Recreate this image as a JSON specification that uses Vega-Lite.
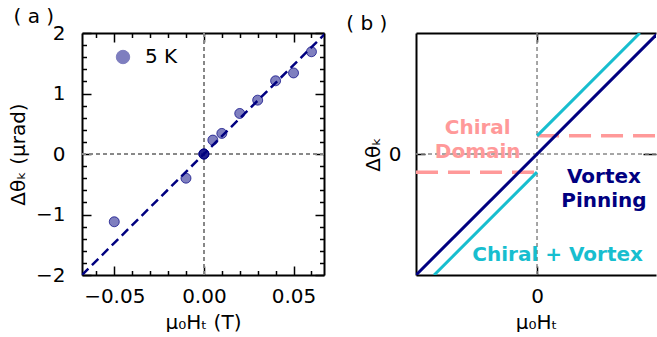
{
  "$schema": "https://vega.github.io/schema/vega-lite/v6.json",
  "padding": {"left": 8, "top": 7, "right": 0, "bottom": 0},
  "background": "white",
  "spacing": 21,
  "datasets": {
    "pts": [
      {"H": -0.05, "theta": -1.12, "series": "5 K"},
      {"H": -0.01, "theta": -0.40, "series": "5 K"},
      {"H": 0.0, "theta": 0.0, "series": "5 K"},
      {"H": 0.0, "theta": 0.0, "series": "5 K"},
      {"H": 0.0, "theta": 0.0, "series": "5 K"},
      {"H": 0.005, "theta": 0.23, "series": "5 K"},
      {"H": 0.01, "theta": 0.34, "series": "5 K"},
      {"H": 0.02, "theta": 0.67, "series": "5 K"},
      {"H": 0.03, "theta": 0.89, "series": "5 K"},
      {"H": 0.04, "theta": 1.21, "series": "5 K"},
      {"H": 0.05, "theta": 1.34, "series": "5 K"},
      {"H": 0.06, "theta": 1.69, "series": "5 K"}
    ],
    "fit": [
      {"H": -0.068, "theta": -2.0},
      {"H": 0.068, "theta": 2.0}
    ],
    "pink": [
      {"seg": "p1", "x": -1, "y": -0.15},
      {"seg": "p1", "x": 0, "y": -0.15},
      {"seg": "p2", "x": 0, "y": 0.15},
      {"seg": "p2", "x": 0.983, "y": 0.15}
    ],
    "cyan": [
      {"seg": "c1", "x": -0.85, "y": -1},
      {"seg": "c1", "x": 0, "y": -0.15},
      {"seg": "c2", "x": 0, "y": 0.15},
      {"seg": "c2", "x": 0.85, "y": 1}
    ],
    "navy": [
      {"seg": "n", "x": -1, "y": -1},
      {"seg": "n", "x": 1, "y": 1}
    ],
    "labels": [
      {"x": -0.49, "y": 0.215, "label": "Chiral\nDomain", "kind": "pink"},
      {"x": 0.553, "y": -0.186, "label": "Vortex\nPinning", "kind": "navy"},
      {"x": 0.17, "y": -0.835, "label": "Chiral + Vortex", "kind": "cyan"}
    ]
  },
  "hconcat": [
    {
      "title": {"text": "( a )", "anchor": "start", "frame": "bounds", "fontSize": 20, "fontWeight": "normal", "font": "DejaVu Sans", "offset": -4, "dx": 5},
      "width": 242,
      "height": 242,
      "resolve": {"axis": {"x": "independent", "y": "independent"}},
      "layer": [
        {
          "data": {"name": "pts"},
          "mark": {"type": "point", "opacity": 0},
          "encoding": {
            "x": {"field": "H", "type": "quantitative",
              "scale": {"domain": [-0.068, 0.067], "nice": false, "zero": false},
              "axis": {"orient": "bottom", "title": "μ₀Hₜ (T)", "values": [-0.05, 0, 0.05], "format": ".2f",
                "tickSize": -9, "labelPadding": 20, "titlePadding": 6}},
            "y": {"field": "theta", "type": "quantitative",
              "scale": {"domain": [-2, 2], "nice": false, "zero": false},
              "axis": {"orient": "left", "title": "Δθₖ (µrad)", "values": [-2, -1, 0, 1, 2], "format": "d",
                "tickSize": -9, "labelPadding": 26, "titlePadding": 7}}
          }
        },
        {
          "data": {"name": "pts"},
          "mark": {"type": "point", "opacity": 0},
          "encoding": {
            "x": {"field": "H", "type": "quantitative",
              "axis": {"orient": "top", "title": null, "labels": false, "values": [-0.05, 0, 0.05], "tickSize": -9}},
            "y": {"field": "theta", "type": "quantitative",
              "axis": {"orient": "right", "title": null, "labels": false, "values": [-2, -1, 0, 1, 2], "tickSize": -9}}
          }
        },
        {
          "data": {"name": "pts"},
          "mark": {"type": "point", "opacity": 0},
          "encoding": {
            "x": {"field": "H", "type": "quantitative",
              "axis": {"orient": "bottom", "title": null, "labels": false, "domain": false,
                "values": [-0.06, -0.04, -0.03, -0.02, -0.01, 0.01, 0.02, 0.03, 0.04, 0.06], "tickSize": -4.5}},
            "y": {"field": "theta", "type": "quantitative",
              "axis": {"orient": "left", "title": null, "labels": false, "domain": false,
                "values": [-1.8, -1.6, -1.4, -1.2, -0.8, -0.6, -0.4, -0.2, 0.2, 0.4, 0.6, 0.8, 1.2, 1.4, 1.6, 1.8], "tickSize": -4.5}}
          }
        },
        {
          "data": {"name": "pts"},
          "mark": {"type": "point", "opacity": 0},
          "encoding": {
            "x": {"field": "H", "type": "quantitative",
              "axis": {"orient": "top", "title": null, "labels": false, "domain": false,
                "values": [-0.06, -0.04, -0.03, -0.02, -0.01, 0.01, 0.02, 0.03, 0.04, 0.06], "tickSize": -4.5}},
            "y": {"field": "theta", "type": "quantitative",
              "axis": {"orient": "right", "title": null, "labels": false, "domain": false,
                "values": [-1.8, -1.6, -1.4, -1.2, -0.8, -0.6, -0.4, -0.2, 0.2, 0.4, 0.6, 0.8, 1.2, 1.4, 1.6, 1.8], "tickSize": -4.5}}
          }
        },
        {
          "data": {"name": "pts"},
          "mark": {"type": "rule", "color": "#888888", "strokeWidth": 1, "strokeDash": [4, 3]},
          "encoding": {"x": {"datum": 0, "type": "quantitative", "axis": null}}
        },
        {
          "data": {"name": "pts"},
          "mark": {"type": "rule", "color": "#888888", "strokeWidth": 1, "strokeDash": [4, 3]},
          "encoding": {"y": {"datum": 0, "type": "quantitative", "axis": null}}
        },
        {
          "data": {"name": "fit"},
          "mark": {"type": "line", "color": "#000080", "strokeWidth": 2.5, "strokeDash": [9, 5], "clip": true},
          "encoding": {
            "x": {"field": "H", "type": "quantitative", "axis": null},
            "y": {"field": "theta", "type": "quantitative", "axis": null}
          }
        },
        {
          "data": {"name": "pts"},
          "mark": {"type": "point", "shape": "circle", "filled": true, "size": 100, "fillOpacity": 0.5, "stroke": "#000080", "strokeWidth": 1, "strokeOpacity": 0.7},
          "encoding": {
            "x": {"field": "H", "type": "quantitative", "axis": null},
            "y": {"field": "theta", "type": "quantitative", "axis": null},
            "fill": {"field": "series", "type": "nominal", "scale": {"range": ["#000080"]},
              "legend": {"orient": "top-left", "title": null, "offset": 14, "padding": 0, "symbolOffset": 17,
                "symbolType": "circle", "symbolSize": 180, "symbolOpacity": 0.5, "symbolStrokeColor": "#000080", "symbolStrokeWidth": 1,
                "labelFontSize": 20, "labelFont": "DejaVu Sans", "labelColor": "black", "labelOffset": 12}}
          }
        }
      ]
    },
    {
      "title": {"text": "( b )", "anchor": "start", "frame": "bounds", "fontSize": 20, "fontWeight": "normal", "font": "DejaVu Sans", "offset": -4, "dx": -17},
      "width": 240,
      "height": 242,
      "resolve": {"axis": {"x": "independent", "y": "independent"}},
      "layer": [
        {
          "data": {"name": "navy"},
          "mark": {"type": "point", "opacity": 0},
          "encoding": {
            "x": {"field": "x", "type": "quantitative",
              "scale": {"domain": [-1, 0.983], "nice": false, "zero": false},
              "axis": {"orient": "bottom", "title": "μ₀Hₜ", "values": [0], "format": "d", "tickSize": -9, "labelPadding": 20, "titlePadding": 6}},
            "y": {"field": "y", "type": "quantitative",
              "scale": {"domain": [-1, 1], "nice": false, "zero": false},
              "axis": {"orient": "left", "title": "Δθₖ", "values": [0], "format": "d", "tickSize": -9, "labelPadding": 24, "titlePadding": 5}}
          }
        },
        {
          "data": {"name": "navy"},
          "mark": {"type": "point", "opacity": 0},
          "encoding": {
            "x": {"field": "x", "type": "quantitative",
              "axis": {"orient": "top", "title": null, "labels": false, "values": [0], "tickSize": -9}},
            "y": {"field": "y", "type": "quantitative",
              "axis": {"orient": "right", "title": null, "labels": false, "values": [0], "tickSize": -13, "domain": false}}
          }
        },
        {
          "data": {"name": "navy"},
          "mark": {"type": "rule", "color": "#888888", "strokeWidth": 1, "strokeDash": [4, 3]},
          "encoding": {"x": {"datum": 0, "type": "quantitative", "axis": null}}
        },
        {
          "data": {"name": "navy"},
          "mark": {"type": "rule", "color": "#888888", "strokeWidth": 1, "strokeDash": [4, 3]},
          "encoding": {"y": {"datum": 0, "type": "quantitative", "axis": null}}
        },
        {
          "data": {"name": "pink"},
          "mark": {"type": "line", "color": "#ff9999", "strokeWidth": 3.5, "strokeDash": [22, 10], "clip": true},
          "encoding": {
            "x": {"field": "x", "type": "quantitative", "axis": null},
            "y": {"field": "y", "type": "quantitative", "axis": null},
            "detail": {"field": "seg", "type": "nominal"}
          }
        },
        {
          "data": {"name": "cyan"},
          "mark": {"type": "line", "color": "#17becf", "strokeWidth": 3, "clip": true},
          "encoding": {
            "x": {"field": "x", "type": "quantitative", "axis": null},
            "y": {"field": "y", "type": "quantitative", "axis": null},
            "detail": {"field": "seg", "type": "nominal"}
          }
        },
        {
          "data": {"name": "navy"},
          "mark": {"type": "line", "color": "#000080", "strokeWidth": 3, "clip": true},
          "encoding": {
            "x": {"field": "x", "type": "quantitative", "axis": null},
            "y": {"field": "y", "type": "quantitative", "axis": null},
            "detail": {"field": "seg", "type": "nominal"}
          }
        },
        {
          "data": {"name": "labels"},
          "mark": {"type": "text", "font": "DejaVu Sans", "fontSize": 20, "fontWeight": "bold", "lineBreak": "\n", "lineHeight": 24, "align": "center", "baseline": "middle"},
          "encoding": {
            "x": {"field": "x", "type": "quantitative", "axis": null},
            "y": {"field": "y", "type": "quantitative", "axis": null},
            "text": {"field": "label"},
            "color": {"field": "kind", "type": "nominal", "legend": null,
              "scale": {"domain": ["pink", "navy", "cyan"], "range": ["#ff9999", "#000080", "#17becf"]}}
          }
        }
      ]
    }
  ],
  "config": {
    "view": {"stroke": null},
    "axis": {
      "domainColor": "black", "domainWidth": 2,
      "ticks": true, "tickColor": "black", "tickWidth": 1.5,
      "labelFont": "DejaVu Sans", "labelFontSize": 20, "labelColor": "black", "labelFlush": false,
      "titleFont": "DejaVu Sans", "titleFontSize": 20, "titleFontWeight": "normal", "titleColor": "black",
      "grid": false, "labelOverlap": false
    }
  }
}
